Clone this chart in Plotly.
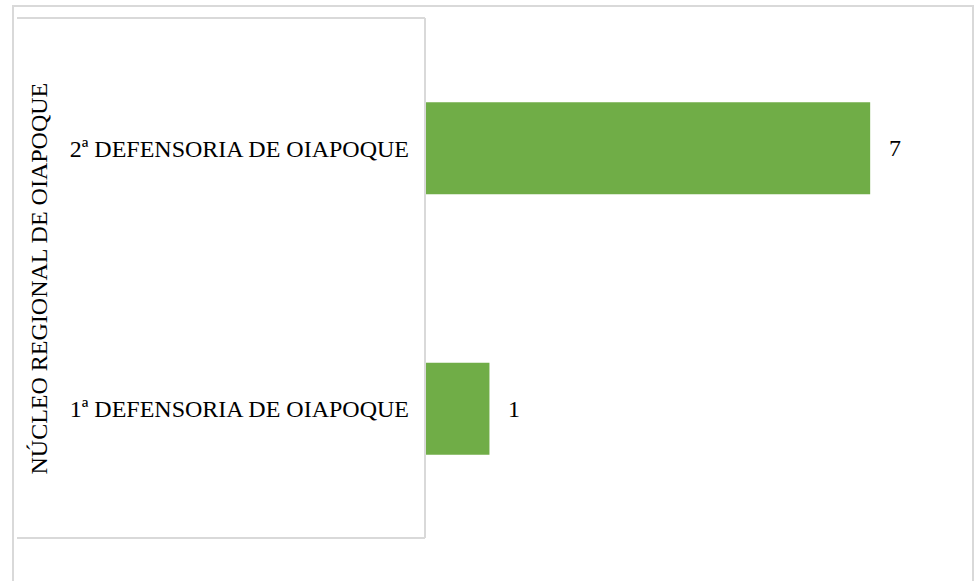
import plotly.graph_objects as go

categories = ["1ª DEFENSORIA DE OIAPOQUE", "2ª DEFENSORIA DE OIAPOQUE"]
values = [1, 7]
group_label = "NÚCLEO REGIONAL DE OIAPOQUE"

W, H = 978, 581
L, R = 426, 959   # plot area px
T, B = 18, 539

def px_x(p):
    return (p - L) / (R - L)

def px_y(p):
    return (B - p) / (B - T)

FONT = "Liberation Serif"
GRID = "#D9D9D9"
FS = 24

fig = go.Figure()
fig.add_trace(go.Bar(
    y=categories, x=values, orientation="h",
    marker=dict(color="#70AD47", line=dict(width=0)),
    width=0.353, hoverinfo="skip",
))

annotations = []
for c, v in zip(categories, values):
    annotations.append(dict(x=v, y=c, xref="x", yref="y", text=str(v),
                            showarrow=False, xanchor="center", xshift=25,
                            font=dict(family=FONT, size=FS, color="#000")))
annotations.append(dict(x=px_x(38.5), y=px_y(279), xref="paper", yref="paper",
                        text=group_label, textangle=-90, showarrow=False,
                        xanchor="center", yanchor="middle",
                        font=dict(family=FONT, size=FS, color="#000")))

shapes = [
    dict(type="rect", xref="paper", yref="paper",
         x0=px_x(13), x1=px_x(973), y0=px_y(600), y1=px_y(6),
         line=dict(color=GRID, width=2), layer="above"),
    dict(type="line", xref="paper", yref="paper",
         x0=px_x(17), x1=px_x(425), y0=px_y(18), y1=px_y(18),
         line=dict(color=GRID, width=2)),
    dict(type="line", xref="paper", yref="paper",
         x0=px_x(17), x1=px_x(425), y0=px_y(538), y1=px_y(538),
         line=dict(color=GRID, width=2)),
    dict(type="line", xref="paper", yref="paper",
         x0=px_x(425), x1=px_x(425), y0=px_y(18), y1=px_y(538),
         line=dict(color=GRID, width=2)),
]

fig.update_layout(
    width=W, height=H,
    font=dict(family=FONT, size=FS, color="#000"),
    margin=dict(l=L, r=W - R, t=T, b=H - B, pad=0),
    paper_bgcolor="white", plot_bgcolor="white",
    showlegend=False,
    xaxis=dict(range=[0, 8.4], visible=False, showgrid=False, zeroline=False, fixedrange=True),
    yaxis=dict(categoryorder="array", categoryarray=categories,
               range=[-0.5, 1.5], showgrid=False, zeroline=False, showline=False,
               ticks="", ticklabelstandoff=16, fixedrange=True,
               tickfont=dict(family=FONT, size=FS, color="#000")),
    annotations=annotations,
    shapes=shapes,
)

fig.write_html("out.html", config={"displayModeBar": False},
               post_script="document.body.style.margin='0';document.body.style.overflow='hidden';")
